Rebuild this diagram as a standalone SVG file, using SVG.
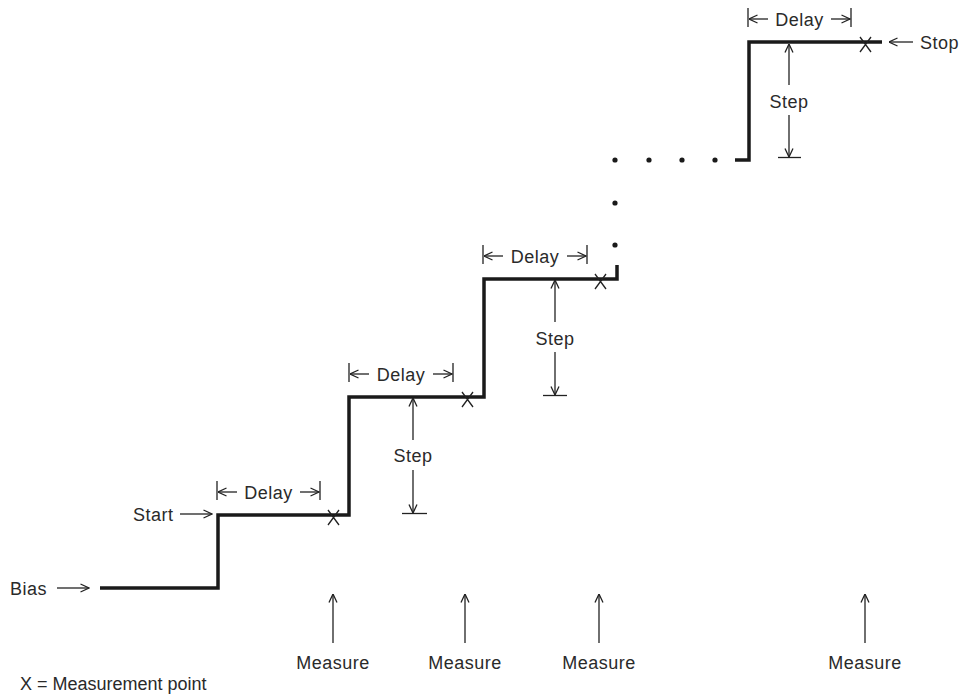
<svg xmlns="http://www.w3.org/2000/svg" width="963" height="696" viewBox="0 0 963 696">
<defs>
<marker id="ah" viewBox="0 0 10 10" refX="9.5" refY="5" markerWidth="10" markerHeight="10" markerUnits="userSpaceOnUse" orient="auto">
<path d="M1,1 L9.5,5 L1,9" fill="none" stroke="#222" stroke-width="1.3"/>
</marker>
<style>
.t{font-family:"Liberation Sans",Arial,sans-serif;font-size:18px;fill:#2a2a2a;letter-spacing:0.5px}
.c{text-anchor:middle}
.thin{stroke:#222;stroke-width:1.3;fill:none}
.arr{stroke:#222;stroke-width:1.3;fill:none;marker-end:url(#ah)}
.stair{stroke:#1a1a1a;stroke-width:3.5;fill:none;stroke-linejoin:miter}
.dot{fill:#1a1a1a}
</style>
</defs>
<rect width="963" height="696" fill="#fff"/>

<g id="staircase">
<path class="stair" d="M100,588 H218 V515 H349 V397 H484 V279 H617 V265"/>
<path class="stair" d="M735,160 H749 V42 H882"/>
</g>

<g id="dots">
<circle class="dot" cx="615" cy="245" r="2.6"/>
<circle class="dot" cx="615" cy="203" r="2.6"/>
<circle class="dot" cx="615" cy="160" r="2.6"/>
<circle class="dot" cx="649" cy="160" r="2.6"/>
<circle class="dot" cx="682" cy="160" r="2.6"/>
<circle class="dot" cx="715" cy="160" r="2.6"/>
</g>

<g id="measurement-points">
<path class="thin" d="M328,510 L339,525 M339,510 L328,525"/>
<path class="thin" d="M462,392 L473,407 M473,392 L462,407"/>
<path class="thin" d="M595,274 L606,289 M606,274 L595,289"/>
<path class="thin" d="M860,37 L871,52 M871,37 L860,52"/>
</g>

<g id="bias">
<text class="t" x="10" y="595">Bias</text>
<line class="arr" x1="57" y1="588" x2="89" y2="588"/>
</g>

<g id="start">
<text class="t" x="133" y="521">Start</text>
<line class="arr" x1="180" y1="514" x2="212" y2="514"/>
</g>

<g id="stop">
<line class="arr" x1="913" y1="42" x2="889" y2="42"/>
<text class="t" x="920" y="49">Stop</text>
</g>

<g id="delay1">
<path class="thin" d="M217,481 V500 M320,481 V500"/>
<line class="arr" x1="237" y1="492" x2="218" y2="492"/>
<line class="arr" x1="300" y1="492" x2="319" y2="492"/>
<text class="t c" x="268.5" y="499">Delay</text>
</g>

<g id="delay2">
<path class="thin" d="M349,363 V382 M453,363 V382"/>
<line class="arr" x1="369" y1="374" x2="350" y2="374"/>
<line class="arr" x1="433" y1="374" x2="452" y2="374"/>
<text class="t c" x="401" y="381">Delay</text>
</g>

<g id="delay3">
<path class="thin" d="M483,245 V264 M587,245 V264"/>
<line class="arr" x1="503" y1="256" x2="484" y2="256"/>
<line class="arr" x1="567" y1="256" x2="586" y2="256"/>
<text class="t c" x="535" y="263">Delay</text>
</g>

<g id="delay4">
<path class="thin" d="M748,8 V27 M851,8 V27"/>
<line class="arr" x1="768" y1="19" x2="749" y2="19"/>
<line class="arr" x1="831" y1="19" x2="850" y2="19"/>
<text class="t c" x="799.5" y="26">Delay</text>
</g>

<g id="step1">
<line class="arr" x1="413" y1="440" x2="413" y2="398"/>
<text class="t c" x="413" y="462">Step</text>
<line class="arr" x1="413" y1="470" x2="413" y2="513"/>
<line class="thin" x1="402" y1="513.5" x2="427" y2="513.5"/>
</g>

<g id="step2">
<line class="arr" x1="555" y1="322" x2="555" y2="280"/>
<text class="t c" x="555" y="345">Step</text>
<line class="arr" x1="555" y1="352" x2="555" y2="395"/>
<line class="thin" x1="543" y1="395.5" x2="567" y2="395.5"/>
</g>

<g id="step3">
<line class="arr" x1="789" y1="85" x2="789" y2="44"/>
<text class="t c" x="789" y="108">Step</text>
<line class="arr" x1="789" y1="115" x2="789" y2="157"/>
<line class="thin" x1="778" y1="157.5" x2="801" y2="157.5"/>
</g>

<g id="measure1">
<line class="arr" x1="333" y1="643" x2="333" y2="594"/>
<text class="t c" x="333" y="669">Measure</text>
</g>
<g id="measure2">
<line class="arr" x1="465" y1="643" x2="465" y2="594"/>
<text class="t c" x="465" y="669">Measure</text>
</g>
<g id="measure3">
<line class="arr" x1="599" y1="643" x2="599" y2="594"/>
<text class="t c" x="599" y="669">Measure</text>
</g>
<g id="measure4">
<line class="arr" x1="865" y1="643" x2="865" y2="594"/>
<text class="t c" x="865" y="669">Measure</text>
</g>

<g id="legend">
<text class="t" x="20" y="690" style="letter-spacing:0">X = Measurement point</text>
</g>
</svg>
